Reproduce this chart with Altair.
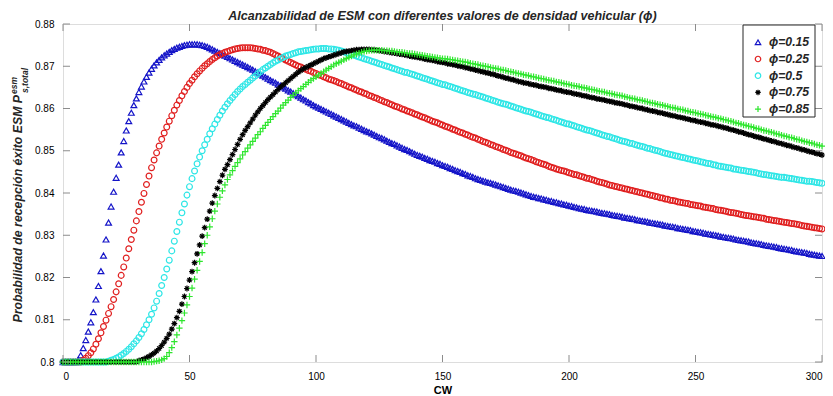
import altair as alt
import pandas as pd

# ---------------- data ----------------
cw = list(range(0, 301))
series_names = ["ϕ=0.15", "ϕ=0.25", "ϕ=0.5", "ϕ=0.75", "ϕ=0.85"]
series_colors = ["#1414c8", "#e01f1f", "#2ee6e6", "#000000", "#2ee62e"]
asterisk = "M-1,0L1,0M0,-1L0,1M-0.7,-0.7L0.7,0.7M-0.7,0.7L0.7,-0.7"
plus = "M-1.1,0L1.1,0M0,-1.1L0,1.1"
series_shapes = ["triangle-up", "circle", "circle", asterisk, plus]

x_ticks = [0, 50, 100, 150, 200, 250, 300]
y_ticks = [0.80, 0.81, 0.82, 0.83, 0.84, 0.85, 0.86, 0.87, 0.88]

blue = [
    .8000, .8000, .8000, .8000, .8000, .8000, .8004, .8016, .8033, .8052,
    .8072, .8094, .8118, .8148, .8180, .8215, .8252, .8290, .8330, .8368,
    .8403, .8436, .8467, .8496, .8523, .8548, .8570, .8590, .8608, .8624,
    .8639, .8652, .8664, .8675, .8685, .8694, .8702, .8709, .8715, .8721,
    .8726, .8730, .8734, .8738, .8741, .8744, .8746, .8748, .8750, .8751,
    .8752, .8752, .8752, .8752, .8751, .8750, .8748, .8746, .8743, .8740,
    .8737, .8734, .8731, .8728, .8725, .8722, .8719, .8716, .8713, .8710,
    .8707, .8704, .8701, .8698, .8695, .8692, .8688, .8685, .8681, .8678,
    .8674, .8671, .8667, .8664, .8661, .8657, .8654, .8650, .8647, .8643,
    .8640, .8636, .8633, .8629, .8626, .8622, .8619, .8615, .8612, .8608,
    .8605, .8602, .8599, .8596, .8593, .8590, .8587, .8584, .8581, .8578,
    .8575, .8572, .8569, .8566, .8563, .8560, .8558, .8555, .8552, .8549,
    .8546, .8544, .8541, .8538, .8535, .8532, .8530, .8527, .8524, .8521,
    .8518, .8516, .8513, .8510, .8507, .8504, .8502, .8499, .8496, .8493,
    .8490, .8488, .8486, .8483, .8481, .8478, .8476, .8474, .8471, .8469,
    .8466, .8464, .8462, .8459, .8457, .8454, .8452, .8450, .8447, .8445,
    .8442, .8440, .8438, .8435, .8433, .8431, .8429, .8427, .8425, .8424,
    .8422, .8420, .8418, .8416, .8414, .8412, .8410, .8408, .8406, .8405,
    .8403, .8401, .8399, .8397, .8395, .8393, .8391, .8390, .8388, .8387,
    .8385, .8384, .8382, .8381, .8379, .8378, .8376, .8375, .8373, .8372,
    .8370, .8369, .8367, .8366, .8364, .8363, .8362, .8360, .8359, .8358,
    .8357, .8356, .8354, .8353, .8352, .8351, .8350, .8348, .8347, .8346,
    .8345, .8344, .8342, .8341, .8340, .8339, .8338, .8336, .8335, .8334,
    .8333, .8332, .8330, .8329, .8328, .8327, .8326, .8325, .8323, .8322,
    .8321, .8320, .8319, .8317, .8316, .8315, .8314, .8313, .8312, .8310,
    .8309, .8308, .8307, .8306, .8304, .8303, .8302, .8301, .8300, .8299,
    .8297, .8296, .8295, .8294, .8293, .8292, .8290, .8289, .8288, .8287,
    .8286, .8285, .8283, .8282, .8281, .8280, .8279, .8277, .8276, .8275,
    .8274, .8273, .8272, .8270, .8269, .8268, .8267, .8266, .8265, .8263,
    .8262, .8261, .8260, .8259, .8258, .8256, .8255, .8254, .8253, .8252,
    .8251,
]

red = [
    .8000, .8000, .8000, .8000, .8000, .8000, .8000, .8000, .8004, .8009,
    .8015, .8022, .8031, .8042, .8055, .8069, .8084, .8099, .8115, .8131,
    .8148, .8166, .8185, .8205, .8225, .8246, .8268, .8290, .8312, .8334,
    .8356, .8378, .8399, .8420, .8440, .8460, .8478, .8495, .8511, .8527,
    .8542, .8556, .8570, .8583, .8596, .8608, .8619, .8630, .8640, .8650,
    .8659, .8667, .8675, .8682, .8689, .8695, .8701, .8706, .8711, .8716,
    .8720, .8724, .8727, .8730, .8733, .8735, .8737, .8739, .8741, .8742,
    .8743, .8744, .8744, .8744, .8744, .8743, .8742, .8741, .8740, .8738,
    .8737, .8735, .8733, .8730, .8727, .8724, .8721, .8718, .8715, .8712,
    .8709, .8706, .8703, .8700, .8698, .8695, .8693, .8690, .8688, .8685,
    .8683, .8680, .8678, .8675, .8673, .8670, .8668, .8666, .8664, .8661,
    .8659, .8656, .8654, .8651, .8649, .8646, .8644, .8641, .8639, .8636,
    .8634, .8631, .8629, .8626, .8624, .8621, .8619, .8616, .8614, .8611,
    .8609, .8606, .8604, .8602, .8599, .8597, .8594, .8592, .8590, .8587,
    .8585, .8582, .8580, .8578, .8575, .8573, .8570, .8568, .8566, .8563,
    .8561, .8558, .8556, .8554, .8551, .8549, .8546, .8544, .8542, .8539,
    .8537, .8534, .8532, .8530, .8527, .8525, .8522, .8520, .8518, .8515,
    .8513, .8510, .8508, .8506, .8503, .8501, .8499, .8496, .8494, .8492,
    .8490, .8488, .8485, .8483, .8481, .8479, .8477, .8474, .8472, .8470,
    .8468, .8466, .8463, .8461, .8459, .8457, .8455, .8453, .8452, .8450,
    .8448, .8446, .8444, .8443, .8441, .8439, .8437, .8435, .8434, .8432,
    .8430, .8428, .8426, .8425, .8423, .8421, .8419, .8418, .8416, .8415,
    .8413, .8412, .8410, .8409, .8407, .8406, .8404, .8403, .8401, .8400,
    .8398, .8397, .8395, .8394, .8392, .8391, .8389, .8388, .8386, .8385,
    .8383, .8382, .8381, .8379, .8378, .8377, .8376, .8375, .8373, .8372,
    .8371, .8370, .8369, .8367, .8366, .8365, .8364, .8363, .8361, .8360,
    .8359, .8358, .8357, .8355, .8354, .8353, .8352, .8351, .8349, .8348,
    .8347, .8346, .8345, .8344, .8343, .8342, .8341, .8340, .8338, .8337,
    .8336, .8335, .8334, .8333, .8332, .8331, .8330, .8329, .8328, .8327,
    .8326, .8325, .8323, .8322, .8321, .8320, .8319, .8318, .8317, .8316,
    .8315,
]

cyan = [
    .8000, .8000, .8000, .8000, .8000, .8000, .8000, .8000, .8000, .8000,
    .8000, .8000, .8000, .8000, .8000, .8000, .8000, .8000, .8002, .8004,
    .8006, .8009, .8012, .8016, .8020, .8025, .8030, .8036, .8043, .8050,
    .8058, .8067, .8077, .8088, .8100, .8113, .8128, .8144, .8162, .8181,
    .8200, .8220, .8241, .8263, .8286, .8309, .8331, .8353, .8374, .8395,
    .8415, .8434, .8452, .8469, .8485, .8500, .8514, .8527, .8540, .8552,
    .8563, .8574, .8584, .8594, .8603, .8611, .8619, .8626, .8633, .8640,
    .8646, .8652, .8657, .8662, .8667, .8672, .8677, .8682, .8687, .8692,
    .8696, .8700, .8704, .8708, .8712, .8715, .8718, .8721, .8724, .8726,
    .8728, .8730, .8732, .8734, .8735, .8736, .8737, .8738, .8739, .8740,
    .8741, .8741, .8742, .8742, .8742, .8741, .8741, .8740, .8739, .8738,
    .8736, .8734, .8732, .8730, .8728, .8726, .8724, .8722, .8720, .8718,
    .8716, .8714, .8712, .8710, .8708, .8706, .8704, .8702, .8700, .8698,
    .8696, .8694, .8692, .8690, .8688, .8686, .8685, .8683, .8681, .8679,
    .8677, .8675, .8673, .8671, .8669, .8667, .8665, .8663, .8661, .8659,
    .8657, .8656, .8654, .8652, .8650, .8648, .8646, .8644, .8642, .8640,
    .8638, .8636, .8634, .8633, .8631, .8629, .8627, .8625, .8623, .8621,
    .8619, .8617, .8615, .8613, .8611, .8610, .8608, .8606, .8604, .8602,
    .8600, .8598, .8596, .8594, .8593, .8591, .8589, .8587, .8585, .8583,
    .8581, .8579, .8578, .8576, .8574, .8572, .8570, .8568, .8566, .8564,
    .8563, .8561, .8559, .8557, .8555, .8553, .8551, .8549, .8548, .8546,
    .8544, .8542, .8540, .8538, .8536, .8534, .8533, .8531, .8529, .8527,
    .8525, .8523, .8522, .8520, .8518, .8517, .8515, .8513, .8511, .8510,
    .8508, .8506, .8505, .8503, .8501, .8500, .8498, .8496, .8494, .8493,
    .8491, .8490, .8488, .8487, .8485, .8484, .8483, .8481, .8480, .8478,
    .8477, .8476, .8474, .8473, .8471, .8470, .8469, .8467, .8466, .8464,
    .8463, .8462, .8461, .8460, .8459, .8457, .8456, .8455, .8454, .8453,
    .8452, .8451, .8450, .8449, .8448, .8446, .8445, .8444, .8443, .8442,
    .8441, .8440, .8439, .8438, .8437, .8437, .8436, .8435, .8434, .8433,
    .8432, .8431, .8430, .8429, .8428, .8428, .8427, .8426, .8425, .8424,
    .8423,
]

black = [
    .8000, .8000, .8000, .8000, .8000, .8000, .8000, .8000, .8000, .8000,
    .8000, .8000, .8000, .8000, .8000, .8000, .8000, .8000, .8000, .8000,
    .8000, .8000, .8000, .8000, .8000, .8000, .8000, .8000, .8000, .8000,
    .8003, .8005, .8007, .8010, .8013, .8017, .8021, .8026, .8032, .8039,
    .8047, .8056, .8066, .8078, .8091, .8105, .8120, .8137, .8155, .8174,
    .8194, .8214, .8235, .8256, .8277, .8298, .8318, .8338, .8357, .8376,
    .8394, .8411, .8427, .8442, .8456, .8467, .8479, .8491, .8503, .8515,
    .8527, .8538, .8548, .8557, .8566, .8575, .8584, .8592, .8600, .8607,
    .8614, .8621, .8627, .8633, .8639, .8645, .8651, .8656, .8661, .8666,
    .8671, .8676, .8681, .8686, .8690, .8694, .8697, .8700, .8703, .8706,
    .8709, .8712, .8715, .8718, .8720, .8722, .8724, .8726, .8728, .8730,
    .8732, .8734, .8735, .8736, .8737, .8738, .8739, .8739, .8740, .8740,
    .8740, .8740, .8739, .8739, .8738, .8737, .8736, .8735, .8734, .8733,
    .8732, .8731, .8730, .8729, .8728, .8727, .8726, .8724, .8723, .8722,
    .8721, .8720, .8719, .8717, .8716, .8715, .8714, .8713, .8711, .8710,
    .8709, .8708, .8706, .8705, .8704, .8703, .8701, .8700, .8699, .8697,
    .8696, .8694, .8693, .8691, .8690, .8688, .8687, .8685, .8684, .8682,
    .8681, .8679, .8677, .8676, .8674, .8672, .8671, .8669, .8668, .8666,
    .8664, .8663, .8661, .8660, .8659, .8657, .8656, .8655, .8653, .8652,
    .8651, .8650, .8648, .8647, .8646, .8644, .8643, .8642, .8640, .8639,
    .8638, .8637, .8635, .8634, .8633, .8631, .8630, .8629, .8627, .8626,
    .8625, .8623, .8622, .8621, .8620, .8618, .8617, .8616, .8614, .8613,
    .8612, .8611, .8609, .8608, .8606, .8605, .8604, .8602, .8601, .8600,
    .8598, .8597, .8595, .8594, .8593, .8591, .8590, .8589, .8587, .8586,
    .8584, .8583, .8582, .8580, .8579, .8578, .8576, .8575, .8573, .8572,
    .8571, .8569, .8568, .8567, .8565, .8564, .8562, .8561, .8560, .8558,
    .8557, .8555, .8554, .8552, .8550, .8549, .8547, .8545, .8544, .8542,
    .8540, .8538, .8537, .8535, .8533, .8532, .8530, .8528, .8527, .8525,
    .8523, .8522, .8520, .8518, .8517, .8515, .8513, .8512, .8510, .8508,
    .8507, .8505, .8503, .8502, .8500, .8498, .8497, .8495, .8493, .8492,
    .8490,
]

green = [
    .8000, .8000, .8000, .8000, .8000, .8000, .8000, .8000, .8000, .8000,
    .8000, .8000, .8000, .8000, .8000, .8000, .8000, .8000, .8000, .8000,
    .8000, .8000, .8000, .8000, .8000, .8000, .8000, .8000, .8000, .8000,
    .8000, .8000, .8000, .8000, .8000, .8000, .8001, .8002, .8003, .8005,
    .8008, .8013, .8022, .8034, .8048, .8064, .8080, .8098, .8116, .8135,
    .8155, .8175, .8196, .8217, .8238, .8259, .8280, .8300, .8320, .8339,
    .8357, .8374, .8390, .8405, .8419, .8432, .8443, .8453, .8463, .8472,
    .8481, .8490, .8498, .8506, .8514, .8522, .8530, .8538, .8545, .8553,
    .8560, .8567, .8574, .8581, .8588, .8594, .8601, .8608, .8614, .8620,
    .8626, .8631, .8637, .8642, .8647, .8652, .8657, .8662, .8667, .8671,
    .8675, .8679, .8683, .8687, .8691, .8695, .8699, .8703, .8706, .8709,
    .8712, .8715, .8718, .8721, .8724, .8727, .8729, .8731, .8733, .8735,
    .8736, .8737, .8738, .8738, .8738, .8738, .8738, .8737, .8737, .8736,
    .8736, .8735, .8734, .8733, .8733, .8732, .8731, .8730, .8730, .8729,
    .8728, .8727, .8726, .8725, .8724, .8723, .8722, .8721, .8720, .8719,
    .8718, .8718, .8717, .8716, .8715, .8714, .8713, .8712, .8711, .8710,
    .8709, .8707, .8706, .8705, .8704, .8702, .8701, .8700, .8699, .8697,
    .8696, .8695, .8694, .8692, .8691, .8690, .8688, .8687, .8686, .8684,
    .8683, .8682, .8680, .8679, .8678, .8676, .8675, .8674, .8672, .8671,
    .8670, .8668, .8667, .8666, .8665, .8663, .8662, .8661, .8659, .8658,
    .8657, .8655, .8654, .8653, .8652, .8650, .8649, .8648, .8646, .8645,
    .8644, .8642, .8641, .8640, .8639, .8637, .8636, .8635, .8633, .8632,
    .8631, .8630, .8628, .8627, .8625, .8624, .8623, .8621, .8620, .8619,
    .8617, .8616, .8614, .8613, .8612, .8610, .8609, .8608, .8606, .8605,
    .8603, .8602, .8601, .8599, .8598, .8597, .8595, .8594, .8592, .8591,
    .8590, .8588, .8587, .8586, .8584, .8583, .8581, .8580, .8579, .8577,
    .8576, .8574, .8573, .8571, .8570, .8568, .8566, .8565, .8563, .8561,
    .8560, .8558, .8557, .8555, .8553, .8552, .8550, .8548, .8547, .8545,
    .8544, .8542, .8540, .8539, .8537, .8535, .8534, .8532, .8531, .8529,
    .8527, .8526, .8524, .8522, .8521, .8519, .8518, .8516, .8514, .8513,
    .8511,
]

all_series = [blue, red, cyan, black, green]
for s in all_series:
    assert len(s) == len(cw)

rows = []
for name, vals in zip(series_names, all_series):
    for x, v in zip(cw, vals):
        rows.append({"cw": x, "p": v, "s": name})
df = pd.DataFrame(rows)

# ---------------- chart ----------------
W, H = 759, 338
FONT = "Liberation Sans"
AX = "#8c8c8c"
TXT = "#262626"

xs = alt.Scale(domain=[0, 300], nice=False, zero=False)
ys = alt.Scale(domain=[0.8, 0.88], nice=False, zero=False)
x_axis = alt.Axis(values=x_ticks, title="CW", grid=False, domain=False, ticks=False,
                  labelPadding=9, titlePadding=3, format="d")
y_axis = alt.Axis(values=y_ticks, title=None, grid=False, domain=False, ticks=False,
                  labelPadding=9, format=".2~f")

points = alt.Chart(df).mark_point(filled=False, size=34, strokeWidth=1.2, opacity=1, clip=False).encode(
    x=alt.X("cw:Q", scale=xs, axis=x_axis),
    y=alt.Y("p:Q", scale=ys, axis=y_axis),
    color=alt.Color("s:N", scale=alt.Scale(domain=series_names, range=series_colors), legend=None),
    shape=alt.Shape("s:N", scale=alt.Scale(domain=series_names, range=series_shapes), legend=None),
)

xt = pd.DataFrame({"v": x_ticks})
yt = pd.DataFrame({"v": y_ticks})
tick_style = dict(color=AX, strokeWidth=1)
bottom_ticks = alt.Chart(xt).mark_rule(**tick_style).encode(
    x=alt.X("v:Q", scale=xs, axis=x_axis), y=alt.value(H), y2=alt.value(H - 7))
top_ticks = alt.Chart(xt).mark_rule(**tick_style).encode(
    x=alt.X("v:Q", scale=xs, axis=x_axis), y=alt.value(0), y2=alt.value(7))
left_ticks = alt.Chart(yt).mark_rule(**tick_style).encode(
    y=alt.Y("v:Q", scale=ys, axis=y_axis), x=alt.value(0), x2=alt.value(7))
right_ticks = alt.Chart(yt).mark_rule(**tick_style).encode(
    y=alt.Y("v:Q", scale=ys, axis=y_axis), x=alt.value(W), x2=alt.value(W - 7))

# y axis title with super/subscript, drawn as rotated text
ylab_main = alt.Chart(pd.DataFrame({"t": ["Probabilidad de recepción éxito ESM P"]})).mark_text(
    angle=270, align="right", baseline="alphabetic", font=FONT, fontSize=12.3, fontStyle="italic",
    fontWeight="bold", color=TXT).encode(text="t:N", x=alt.value(-41), y=alt.value(71))
ylab_sup = alt.Chart(pd.DataFrame({"t": ["esm"]})).mark_text(
    angle=270, align="left", baseline="alphabetic", font=FONT, fontSize=8.5, fontStyle="italic",
    fontWeight="bold", color=TXT).encode(text="t:N", x=alt.value(-46), y=alt.value(70))
ylab_sub = alt.Chart(pd.DataFrame({"t": ["s,total"]})).mark_text(
    angle=270, align="left", baseline="alphabetic", font=FONT, fontSize=8.5, fontStyle="italic",
    fontWeight="bold", color=TXT).encode(text="t:N", x=alt.value(-35), y=alt.value(69))

# legend box (MATLAB style, upper right inside the axes)
LX0, LX1, LY0, LY1 = 680, 752, 1, 93
ROW0, ROWSTEP = 18.3, 16.7
legend_box = alt.Chart(pd.DataFrame({"k": [0]})).mark_rect(
    fill="white", stroke=TXT, strokeWidth=1).encode(
    x=alt.value(LX0), x2=alt.value(LX1), y=alt.value(LY0), y2=alt.value(LY1))
legend_layers = [legend_box]
for i, (name, col, shp) in enumerate(zip(series_names, series_colors, series_shapes)):
    ld = pd.DataFrame({"s": [name]})
    yy = ROW0 + i * ROWSTEP
    legend_layers.append(alt.Chart(ld).mark_point(
        filled=False, shape=shp, color=col, size=30, strokeWidth=1.2, opacity=1).encode(
        x=alt.value(695), y=alt.value(yy)))
    legend_layers.append(alt.Chart(ld).mark_text(
        align="left", baseline="middle", font=FONT, fontSize=12.2, fontStyle="italic",
        fontWeight="bold", color=TXT).encode(text="s:N", x=alt.value(706), y=alt.value(yy)))

chart = alt.layer(
    points, bottom_ticks, top_ticks, left_ticks, right_ticks, ylab_main, ylab_sup, ylab_sub,
    *legend_layers
).properties(
    width=W, height=H,
    title=alt.Title("Alcanzabilidad de ESM con diferentes valores de densidad vehicular (ϕ)",
                    font=FONT, fontSize=12.5, fontStyle="italic", fontWeight="bold", color=TXT,
                    anchor="middle", offset=1, dy=4),
    autosize=alt.AutoSizeParams(type="none"),
    padding={"left": 55, "top": 16, "right": 3, "bottom": 34},
).configure_view(
    stroke=AX, strokeWidth=1
).configure_axis(
    labelFont=FONT, labelFontSize=11.5, labelFontStyle="italic", labelFontWeight="bold", labelColor=TXT,
    titleFont=FONT, titleFontSize=13, titleFontStyle="italic", titleFontWeight="normal", titleColor=TXT,
).configure(background="white")

chart.save("out.html", embed_options={"renderer": "svg", "actions": False})
